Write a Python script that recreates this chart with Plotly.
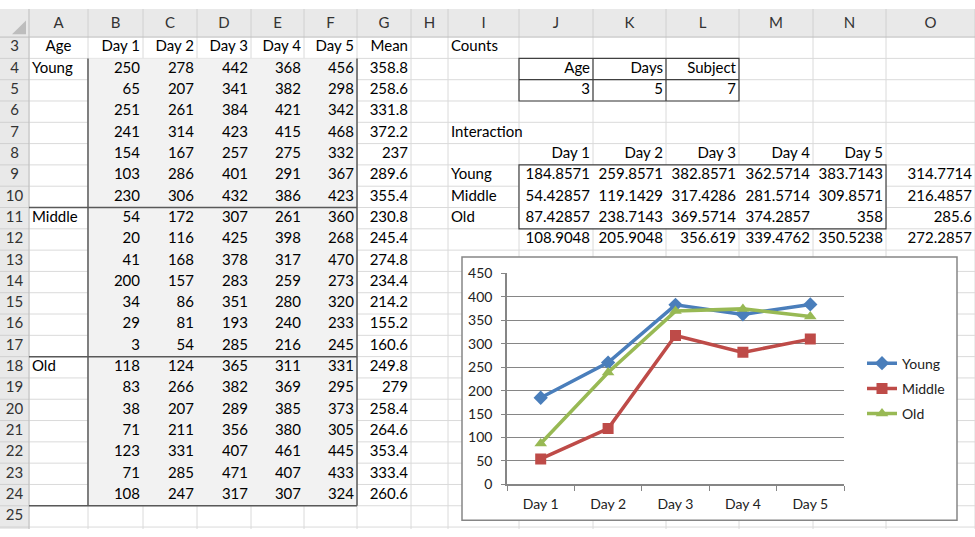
import plotly.graph_objects as go

# sheet contents
col_letters = ["A", "B", "C", "D", "E", "F", "G", "H", "I", "J", "K", "L", "M", "N", "O"]
row_numbers = list(range(3, 26))

age_groups = ["Young", "Middle", "Old"]
days = ["Day 1", "Day 2", "Day 3", "Day 4", "Day 5"]

young_scores = [[250, 278, 442, 368, 456],
                [65, 207, 341, 382, 298],
                [251, 261, 384, 421, 342],
                [241, 314, 423, 415, 468],
                [154, 167, 257, 275, 332],
                [103, 286, 401, 291, 367],
                [230, 306, 432, 386, 423]]
middle_scores = [[54, 172, 307, 261, 360],
                 [20, 116, 425, 398, 268],
                 [41, 168, 378, 317, 470],
                 [200, 157, 283, 259, 273],
                 [34, 86, 351, 280, 320],
                 [29, 81, 193, 240, 233],
                 [3, 54, 285, 216, 245]]
old_scores = [[118, 124, 365, 311, 331],
              [83, 266, 382, 369, 295],
              [38, 207, 289, 385, 373],
              [71, 211, 356, 380, 305],
              [123, 331, 407, 461, 445],
              [71, 285, 471, 407, 433],
              [108, 247, 317, 307, 324]]
subject_means = [358.8, 258.6, 331.8, 372.2, 237, 289.6, 355.4,
                 230.8, 245.4, 274.8, 234.4, 214.2, 155.2, 160.6,
                 249.8, 279, 258.4, 264.6, 353.4, 333.4, 260.6]

count_labels = ["Age", "Days", "Subject"]
count_values = [3, 5, 7]

young_means = [184.8571, 259.8571, 382.8571, 362.5714, 383.7143]
middle_means = [54.42857, 119.1429, 317.4286, 281.5714, 309.8571]
old_means = [87.42857, 238.7143, 369.5714, 374.2857, 358]
age_means = [314.7714, 216.4857, 285.6]
day_means = [108.9048, 205.9048, 356.619, 339.4762, 350.5238]
grand_mean = 272.2857

series_colors = ["#4a7ebb", "#be4b48", "#98b954"]
series_symbols = ["diamond", "square", "triangle-up"]

# sheet geometry (pixels)
W, H = 975, 537
HEAD = 29
ROW_H = 22
col_widths = [59, 55, 54, 54, 53, 53, 54, 37, 71, 74, 73, 73, 74, 73, 89]
col_edges = [HEAD]
for w in col_widths:
    col_edges.append(col_edges[-1] + w)


def col_left(c):
    return col_edges[col_letters.index(c)]


def col_right(c):
    return col_edges[col_letters.index(c) + 1]


def row_top(r):
    return HEAD + (r - 3) * ROW_H


def row_mid(r):
    return row_top(r) + ROW_H / 2


cells = {"left": ([], [], []), "right": ([], [], []), "center": ([], [], [])}


def put(col, row, text, align="right"):
    xs, ys, ts = cells[align]
    if align == "right":
        xs.append(col_right(col) - 3)
    elif align == "left":
        xs.append(col_left(col) + 3)
    else:
        xs.append((col_left(col) + col_right(col)) / 2)
    ys.append(row_mid(row))
    ts.append(str(text))


# data block
put("A", 3, "Age", "center")
for j, d in enumerate(days):
    put(col_letters[1 + j], 3, d)
put("G", 3, "Mean")
all_scores = young_scores + middle_scores + old_scores
for i, row in enumerate(all_scores):
    for j, v in enumerate(row):
        put(col_letters[1 + j], 4 + i, v)
    put("G", 4 + i, subject_means[i])
for k, g in enumerate(age_groups):
    put("A", 4 + 7 * k, g, "left")

# counts
put("I", 3, "Counts", "left")
for j in range(3):
    put(col_letters[9 + j], 4, count_labels[j])
    put(col_letters[9 + j], 5, count_values[j])

# interaction
inter = [young_means, middle_means, old_means]
put("I", 7, "Interaction", "left")
for j, d in enumerate(days):
    put(col_letters[9 + j], 8, d)
    put(col_letters[9 + j], 12, day_means[j])
for k, g in enumerate(age_groups):
    put("I", 9 + k, g, "left")
    for j, v in enumerate(inter[k]):
        put(col_letters[9 + j], 9 + k, v)
    put("O", 9 + k, age_means[k])
put("O", 12, grand_mean)

fig = go.Figure()

sheet_font = dict(family="Lato, Open Sans, sans-serif", size=15, color="#000000")
positions = {"left": "middle right", "right": "middle left", "center": "middle center"}
for align, (xs, ys, ts) in cells.items():
    fig.add_trace(go.Scatter(x=xs, y=ys, text=ts, mode="text", textposition=positions[align],
                             textfont=sheet_font, showlegend=False, hoverinfo="skip",
                             cliponaxis=False, xaxis="x", yaxis="y"))

# headers
hx = [(col_edges[i] + col_edges[i + 1]) / 2 for i in range(len(col_letters))]
fig.add_trace(go.Scatter(x=hx, y=[HEAD / 2 + 1] * len(hx), text=col_letters, mode="text",
                         textfont=dict(family="Lato, sans-serif", size=15, color="#333333"),
                         showlegend=False, hoverinfo="skip", cliponaxis=False))
fig.add_trace(go.Scatter(x=[HEAD / 2] * len(row_numbers), y=[row_mid(r) for r in row_numbers],
                         text=[str(r) for r in row_numbers], mode="text",
                         textfont=dict(family="Lato, sans-serif", size=15, color="#333333"),
                         showlegend=False, hoverinfo="skip", cliponaxis=False))

# chart
for k, g in enumerate(age_groups):
    fig.add_trace(go.Scatter(x=days, y=inter[k], name=g, mode="lines+markers",
                             line=dict(color=series_colors[k], width=3.5),
                             marker=dict(symbol=series_symbols[k], size=11, color=series_colors[k]),
                             legendgroup=g, xaxis="x2", yaxis="y2"))

shapes = []
grid = dict(color="#dadada", width=1)
for e in col_edges:
    shapes.append(dict(type="line", x0=e, x1=e, y0=HEAD, y1=H, line=grid))
for r in range(4, 27):
    shapes.append(dict(type="line", x0=HEAD, x1=W, y0=row_top(r), y1=row_top(r), line=grid))

# fills
shapes.append(dict(type="rect", x0=col_left("B"), x1=col_right("F"), y0=row_top(4), y1=row_top(25),
                   fillcolor="#f2f2f2", line=dict(width=0)))
shapes.append(dict(type="rect", x0=col_left("J"), x1=col_right("N"), y0=row_top(9), y1=row_top(12),
                   fillcolor="#ffffff", line=dict(width=0)))
shapes.append(dict(type="rect", x0=462, x1=957, y0=256, y1=528,
                   fillcolor="#ffffff", line=dict(color="#868686", width=1.5)))

# headers
shapes.append(dict(type="rect", x0=0, x1=W, y0=0, y1=HEAD, fillcolor="#e9e9e9", line=dict(width=0)))
shapes.append(dict(type="rect", x0=0, x1=HEAD, y0=0, y1=H, fillcolor="#e9e9e9", line=dict(width=0)))
for e in col_edges[1:]:
    shapes.append(dict(type="line", x0=e, x1=e, y0=0, y1=HEAD, line=dict(color="#d0d0d0", width=1)))
for r in range(4, 27):
    shapes.append(dict(type="line", x0=0, x1=HEAD, y0=row_top(r), y1=row_top(r),
                       line=dict(color="#d0d0d0", width=1)))
shapes.append(dict(type="line", x0=0, x1=W, y0=HEAD, y1=HEAD, line=dict(color="#bdbdbd", width=1)))
shapes.append(dict(type="line", x0=HEAD, x1=HEAD, y0=0, y1=H, line=dict(color="#bdbdbd", width=1)))
shapes.append(dict(type="path", path="M 12 26 L 26 26 L 26 12 Z", fillcolor="#bdbdbd", line=dict(width=0)))

# borders
dark = dict(color="#595959", width=1.5)
shapes.append(dict(type="line", x0=col_left("B"), x1=col_left("B"), y0=row_top(4), y1=row_top(25), line=dark))
shapes.append(dict(type="line", x0=col_right("F"), x1=col_right("F"), y0=row_top(4), y1=row_top(25), line=dark))
for r in [11, 18, 25]:
    shapes.append(dict(type="line", x0=col_left("A"), x1=col_right("F"), y0=row_top(r), y1=row_top(r), line=dark))
thin = dict(color="#404040", width=1.2)
shapes.append(dict(type="rect", x0=col_left("J"), x1=col_right("L"), y0=row_top(4), y1=row_top(6), line=thin))
shapes.append(dict(type="line", x0=col_left("J"), x1=col_right("L"), y0=row_top(5), y1=row_top(5), line=thin))
for c in ["K", "L"]:
    shapes.append(dict(type="line", x0=col_left(c), x1=col_left(c), y0=row_top(4), y1=row_top(6), line=thin))
shapes.append(dict(type="rect", x0=col_left("J"), x1=col_right("N"), y0=row_top(9), y1=row_top(12), line=thin))

for s in shapes:
    s.update(xref="x", yref="y", layer="below")

chart_font = dict(family="Lato, Open Sans, sans-serif", size=14, color="#222222")
fig.update_layout(
    width=W, height=H,
    margin=dict(l=0, r=0, t=0, b=0),
    paper_bgcolor="#ffffff",
    plot_bgcolor="rgba(0,0,0,0)",
    shapes=shapes,
    showlegend=True,
    xaxis=dict(range=[0, W], domain=[0, 1], visible=False, fixedrange=True),
    yaxis=dict(range=[H, 0], domain=[0, 1], visible=False, fixedrange=True),
    xaxis2=dict(domain=[507 / W, 844 / W], anchor="y2", type="category", range=[-0.5, 4.5],
                tickson="boundaries", ticks="outside", ticklen=5, tickcolor="#868686",
                showline=True, linecolor="#868686", linewidth=1.5, showgrid=False,
                tickfont=chart_font, ticklabelstandoff=6, fixedrange=True),
    yaxis2=dict(domain=[1 - 491 / H, 1 - 273 / H], anchor="x2", range=[0, 450], dtick=50,
                ticks="outside", ticklen=4, tickcolor="#868686",
                showline=True, linecolor="#868686", linewidth=1.5,
                showgrid=True, gridcolor="#868686", gridwidth=1, zeroline=False,
                tickfont=chart_font, ticklabelstandoff=6, fixedrange=True),
    legend=dict(x=862 / W, y=1 - 392 / H, xanchor="left", yanchor="middle",
                font=dict(family="Lato, Open Sans, sans-serif", size=14, color="#222222"),
                bgcolor="rgba(0,0,0,0)", tracegroupgap=4, itemwidth=30),
)

# pin the figure to the window corner (the page body has a default margin)
pin = ("var gd=document.getElementById('{plot_id}');"
       "gd.style.position='fixed';gd.style.top='0px';gd.style.left='0px';"
       "document.body.style.margin='0px';"
       "document.documentElement.style.overflow='hidden';")
fig.write_html("out.html", post_script=pin, config={"displayModeBar": False})
